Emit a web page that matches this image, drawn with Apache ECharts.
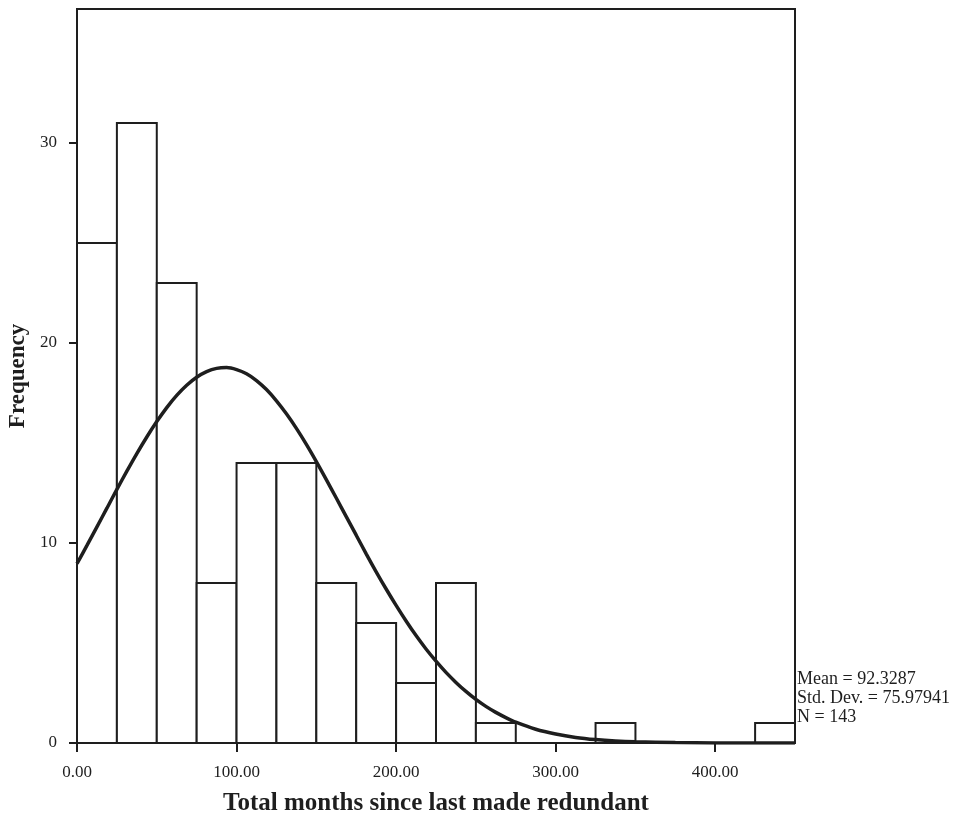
<!DOCTYPE html>
<html>
<head>
<meta charset="utf-8">
<title>Total months since last made redundant</title>
<script src="https://cdn.jsdelivr.net/npm/echarts@6/dist/echarts.min.js"></script>
<style>
  html, body { margin: 0; padding: 0; background: #fff; }
  #chart { width: 957px; height: 818px; }
</style>
</head>
<body>
<div id="chart"></div>
<script>
// Histogram bins (months), each 25 wide, with their frequencies
const binStarts = [0, 25, 50, 75, 100, 125, 150, 175, 200, 225, 250, 275, 300, 325, 350, 375, 400, 425];
const binWidth = 25;
const counts = [25, 31, 23, 8, 14, 14, 8, 6, 3, 8, 1, 0, 0, 1, 0, 0, 0, 1];

// Fitted normal curve: sample positions (months) and expected frequency at each
const curveX = [0, 6.25, 12.5, 18.75, 25, 31.25, 37.5, 43.75, 50, 56.25, 62.5, 68.75, 75, 81.25, 87.5, 93.75,
                100, 106.25, 112.5, 118.75, 125, 131.25, 137.5, 143.75, 150, 156.25, 162.5, 168.75, 175,
                181.25, 187.5, 193.75, 200, 206.25, 212.5, 218.75, 225, 231.25, 237.5, 243.75, 250,
                256.25, 262.5, 268.75, 275, 287.5, 300, 312.5, 325, 337.5, 350, 375, 400, 425, 450];
const curveY = [8.97, 9.88, 10.81, 11.74, 12.68, 13.59, 14.47, 15.3, 16.07, 16.77, 17.38, 17.89, 18.29, 18.57, 18.73, 18.77,
                18.67, 18.46, 18.12, 17.67, 17.11, 16.46, 15.73, 14.93, 14.07, 13.17, 12.25, 11.32, 10.39,
                9.46, 8.56, 7.7, 6.88, 6.1, 5.37, 4.7, 4.09, 3.53, 3.03, 2.58, 2.18,
                1.83, 1.53, 1.27, 1.04, 0.69, 0.45, 0.28, 0.17, 0.1, 0.06, 0.02, 0.005, 0.001, 0];

// Axis ticks
const xTicks = [0, 100, 200, 300, 400];
const yTicks = [0, 10, 20, 30];

// Summary statistics
const statMean = '92.3287';
const statStd = '75.97941';
const statN = '143';

const ink = '#1e1e1e';
const serif = "'Liberation Serif', 'DejaVu Serif', serif";

const chart = echarts.init(document.getElementById('chart'), null, { renderer: 'canvas' });

const barData = binStarts.map((s, i) => [s, s + binWidth, counts[i]]);
const curveData = curveX.map((x, i) => [x, curveY[i]]);

chart.setOption({
  backgroundColor: '#ffffff',
  animation: false,
  grid: {
    left: 77, right: 162, top: 9, bottom: 75,
    containLabel: false,
    outerBoundsMode: 'none',
    show: true, borderColor: ink, borderWidth: 2, backgroundColor: 'transparent'
  },
  xAxis: {
    type: 'value',
    min: 0, max: 450, interval: 100,
    name: 'Total months since last made redundant',
    nameLocation: 'middle',
    nameGap: 48,
    nameTextStyle: { fontFamily: serif, fontWeight: 'bold', fontSize: 25, color: ink },
    axisLine: { show: true, lineStyle: { color: ink, width: 2 } },
    axisTick: { show: true, length: 9, lineStyle: { color: ink, width: 2 }, customValues: xTicks },
    axisLabel: {
      customValues: xTicks,
      formatter: v => Number(v).toFixed(2),
      fontFamily: serif, fontSize: 17, color: ink, margin: 21
    },
    splitLine: { show: false }
  },
  yAxis: {
    type: 'value',
    min: 0, max: 36.7, interval: 10,
    name: 'Frequency',
    nameLocation: 'middle',
    nameGap: 42,
    nameTextStyle: { fontFamily: serif, fontWeight: 'bold', fontSize: 23, color: ink },
    axisLine: { show: true, lineStyle: { color: ink, width: 2 } },
    axisTick: { show: true, length: 8, lineStyle: { color: ink, width: 2 }, customValues: yTicks },
    axisLabel: {
      customValues: yTicks,
      fontFamily: serif, fontSize: 17, color: ink, margin: 20
    },
    splitLine: { show: false }
  },
  series: [
    {
      type: 'custom',
      name: 'Frequency',
      data: barData,
      encode: { x: [0, 1], y: 2 },
      z: 2,
      renderItem: function (params, api) {
        const c = api.value(2);
        if (!c) return null;
        const p0 = api.coord([api.value(0), c]);
        const p1 = api.coord([api.value(1), 0]);
        return {
          type: 'rect',
          shape: { x: p0[0], y: p0[1], width: p1[0] - p0[0], height: p1[1] - p0[1] },
          style: { fill: '#ffffff', stroke: ink, lineWidth: 2 }
        };
      }
    },
    {
      type: 'line',
      name: 'Normal',
      data: curveData,
      smooth: 0.3,
      showSymbol: false,
      symbol: 'none',
      z: 5,
      lineStyle: { color: ink, width: 3.5 }
    }
  ],
  graphic: [
    {
      type: 'text',
      left: 797,
      top: 670,
      style: {
        text: 'Mean = ' + statMean + '\nStd. Dev. = ' + statStd + '\nN = ' + statN,
        font: "18px " + serif,
        lineHeight: 19,
        fill: ink
      }
    }
  ]
});
</script>
</body>
</html>
